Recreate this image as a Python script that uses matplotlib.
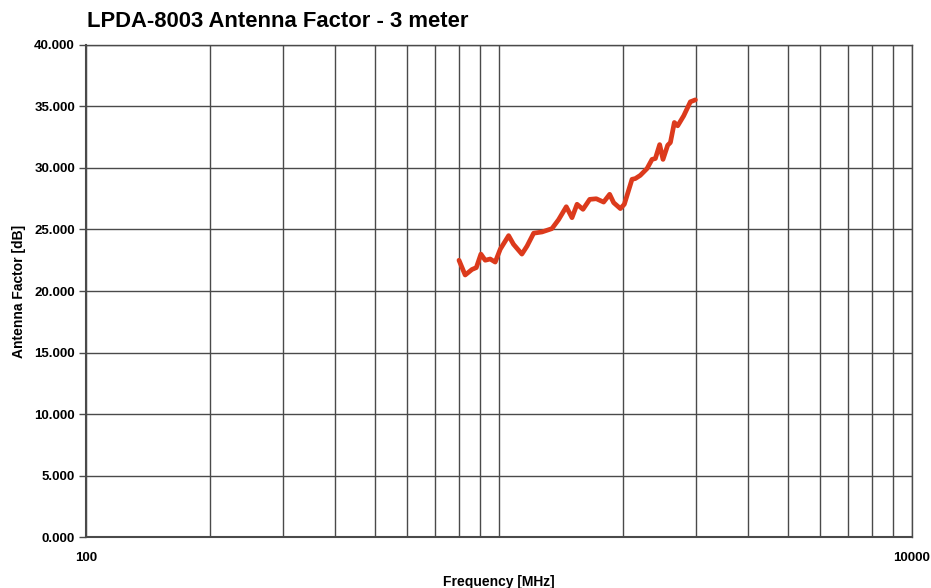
import matplotlib.pyplot as plt
import matplotlib.ticker as mticker
import numpy as np

plt.rcParams['font.family'] = ['Liberation Sans', 'DejaVu Sans']

# frequency [MHz] and antenna factor [dB]
freq = [800, 828, 860, 881, 904, 926, 952, 979, 1007, 1055, 1084, 1136, 1169, 1213,
        1271, 1343, 1394, 1455, 1502, 1545, 1597, 1658, 1720, 1792, 1853, 1895, 1967,
        2011, 2099, 2138, 2198, 2282, 2347, 2391, 2449, 2495, 2561, 2600, 2658, 2708,
        2800, 2906, 2989]
af = [22.5, 21.3, 21.75, 21.9, 23.0, 22.5, 22.6, 22.35, 23.4, 24.5, 23.8, 23.0, 23.65, 24.7,
      24.8, 25.07, 25.8, 26.85, 25.96, 27.05, 26.64, 27.45, 27.5, 27.23, 27.86, 27.18, 26.7,
      27.05, 29.08, 29.14, 29.4, 29.95, 30.7, 30.77, 31.9, 30.7, 31.85, 32.07, 33.7, 33.43,
      34.24, 35.38, 35.54]

yticks = np.arange(0, 40.1, 5)
title = 'LPDA-8003 Antenna Factor - 3 meter'

fig = plt.figure(figsize=(9.31, 5.88), dpi=100)
ax = fig.add_axes([0.0924, 0.0867, 0.8872, 0.8368])

ax.plot(freq, af, color='#dc3a1c', lw=3.4, solid_joinstyle='round', solid_capstyle='round', zorder=3)

ax.set_xscale('log')
ax.set_xlim(100, 10000)
ax.set_ylim(0, 40)
ax.xaxis.set_major_locator(mticker.FixedLocator([100, 10000]))
ax.xaxis.set_major_formatter(mticker.FixedFormatter(['100', '10000']))
ax.xaxis.set_minor_locator(mticker.LogLocator(base=10, subs=np.arange(1, 10)))
ax.xaxis.set_minor_formatter(mticker.NullFormatter())
ax.set_yticks(yticks)
ax.set_yticklabels(['%.3f' % v for v in yticks])

ax.grid(True, which='both', axis='x', color='#4a4a4a', lw=1.0)
ax.grid(True, which='major', axis='y', color='#4a4a4a', lw=1.0)
ax.tick_params(axis='x', which='both', length=0, pad=11, labelsize=9.5)
ax.tick_params(axis='y', length=5, width=1, color='#4a4a4a', pad=3, labelsize=9.5)
for lab in ax.get_xticklabels() + ax.get_yticklabels():
    lab.set_fontweight('bold')
for s in ax.spines.values():
    s.set_color('#4a4a4a')
    s.set_linewidth(1.0)
ax.spines['left'].set_linewidth(1.5)
ax.spines['bottom'].set_linewidth(1.5)

ax.set_xlabel('Frequency [MHz]', fontsize=10, fontweight='bold', labelpad=8)
ax.set_ylabel('Antenna Factor [dB]', fontsize=10, fontweight='bold', labelpad=6)
fig.text(0.093, 0.963, title, fontsize=15.8, fontweight='bold', ha='left', va='center')

fig.savefig('out.png', dpi=100)
